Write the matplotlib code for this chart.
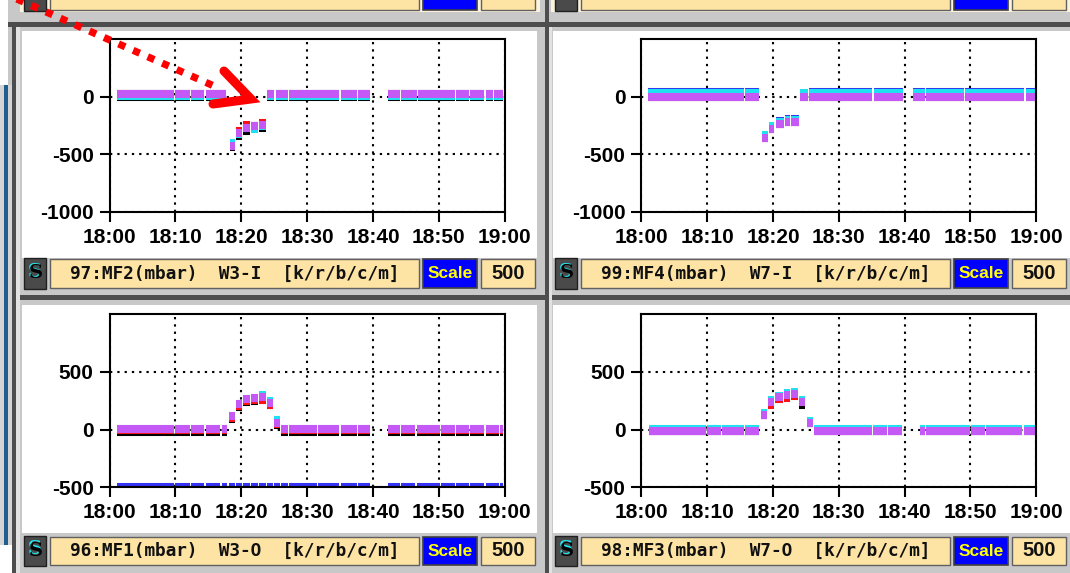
import numpy as np
import matplotlib.pyplot as plt
from matplotlib.patches import Rectangle

plt.rcParams['font.family'] = ['Liberation Sans', 'DejaVu Sans']
plt.rcParams['font.weight'] = 'bold'
plt.rcParams['axes.unicode_minus'] = False

W, H = 1070, 573
nan = np.nan

# time axis in minutes after 18:00
xticks = [0, 10, 20, 30, 40, 50, 60]
xlabels = ['18:00', '18:10', '18:20', '18:30', '18:40', '18:50', '19:00']

top_yticks = [-1000, -500, 0]
top_ylabels = ['-1000', '-500', '0']
bot_yticks = [-500, 0, 500]
bot_ylabels = ['-500', '0', '500']

# ---- 97:MF2 W3-I (top left) : bar edges + k/r/b/c/m values per bar ----
tl_t = [1.1, 10.0, 12.4, 14.6, 17.9, 18.3, 19.2, 20.3, 21.5, 22.7, 23.9, 25.2,
        27.3, 35.1, 37.7, 39.7, 42.3, 44.3, 46.9, 52.6, 54.7, 57.1, 58.4, 60.0]
tl_k = [-5, -5, -5, -5, nan, -440, -340, -295, -260, -275, -5, -5, -5, -5, -5,
        nan, -5, -5, -5, -5, -5, -5, -5]
tl_r = [20, 20, 20, 20, nan, -430, -295, -250, -255, -230, 20, 20, 20, 20, 20,
        nan, 20, 20, 20, 20, 20, 20, 20]
tl_b = [20, 20, 20, 20, nan, -425, -315, -270, -255, -250, 20, 20, 20, 20, 20,
        nan, 20, 20, 20, 20, 20, 20, 20]
tl_c = [8, 8, 8, 8, nan, -405, -320, -275, -280, -255, 8, 8, 8, 8, 8,
        nan, 8, 8, 8, 8, 8, 8, 8]
tl_m = [20, 20, 20, 20, nan, -425, -315, -270, -255, -250, 20, 20, 20, 20, 20,
        nan, 20, 20, 20, 20, 20, 20, 20]

# ---- 99:MF4 W7-I (top right) ----
tr_t = [1.0, 15.8, 18.0, 18.3, 19.4, 20.4, 21.8, 22.8, 24.1, 25.5, 35.3, 40.0,
        41.2, 43.3, 49.2, 58.4, 60.0]
tr_k = [-5, -5, nan, -355, -280, -240, -220, -220, -5, -5, -5, nan, -5, -5, -5, -5]
tr_r = [-5, -5, nan, -355, -280, -240, -220, -220, -5, -5, -5, nan, -5, -5, -5, -5]
tr_b = [45, 45, nan, -340, -262, -210, -196, -196, 20, 45, 45, nan, 45, 45, 45, 45]
tr_c = [35, 35, nan, -335, -255, -220, -205, -205, 35, 35, 35, nan, 35, 35, 35, 35]
tr_m = [-5, -5, nan, -355, -280, -240, -220, -220, -5, -5, -5, nan, -5, -5, -5, -5]

# ---- 96:MF1 W3-O (bottom left) ----
bl_t = [1.1, 10.0, 12.4, 14.6, 17.0, 18.1, 19.2, 20.3, 21.5, 22.7, 23.9, 25.0,
        26.1, 27.3, 31.7, 35.1, 37.7, 39.7, 42.3, 44.3, 46.6, 50.3, 52.6, 54.7,
        57.1, 59.3, 60.0]
bl_k = [-20, -20, -20, -20, -20, 95, 195, 240, 250, 258, 212, 40,
        -20, -20, -20, -20, -20, nan, -20, -20, -20, -20, -20, -20, -20, -20]
bl_r = [-5, -5, -5, -5, -5, 105, 205, 245, 255, 260, 210, 45,
        -5, -5, -5, -5, -5, nan, -5, -5, -5, -5, -5, -5, -5, -5]
bl_b = [-495, -495, -495, -495, -495, -495, -495, -495, -495, -495, -495, -495,
        -495, -495, -495, -495, -495, nan, -495, -495, -495, -495, -495, -495,
        -495, -495]
bl_c = [8, 8, 8, 8, 8, 115, 220, 262, 275, 300, 250, 80,
        8, 8, 8, 8, 8, nan, 8, 8, 8, 8, 8, 8, 8, 8]
bl_m = [8, 8, 8, 8, 8, 115, 220, 262, 275, 280, 232, 60,
        8, 8, 8, 8, 8, nan, 8, 8, 8, 8, 8, 8, 8, 8]

# ---- 98:MF3 W7-O (bottom right) ----
br_t = [1.1, 10.0, 12.3, 15.8, 18.1, 19.3, 20.3, 21.7, 22.8, 24.0, 25.1, 26.2,
        35.2, 37.5, 39.8, 42.3, 43.3, 50.1, 52.4, 58.1, 60.0]
br_k = [-8, -8, -8, -8, 125, 240, 280, 300, 310, 215, 55, -8, -8, -8, nan,
        -8, -8, -8, -8, -8]
br_r = [-8, -8, -8, -8, 125, 215, 262, 278, 295, 240, 55, -8, -8, -8, nan,
        -8, -8, -8, -8, -8]
br_b = [-8, -8, -8, -8, 125, 240, 280, 300, 310, 240, 55, -8, -8, -8, nan,
        -8, -8, -8, -8, -8]
br_c = [9, 9, 9, 9, 145, 258, 295, 318, 330, 258, 75, 9, 9, 9, nan,
        9, 9, 9, 9, 9]
br_m = [-8, -8, -8, -8, 125, 240, 280, 300, 310, 240, 55, -8, -8, -8, nan,
        -8, -8, -8, -8, -8]

colors = {'k': '#000000', 'r': '#ff1010', 'b': '#3434f4', 'c': '#1ee2f0', 'm': '#c459f6'}
BEIGE = '#fde3a4'
LW = 5.8     # trace thickness (pt)
GAP = 0.2    # small white break between stored samples (min)

fig = plt.figure(figsize=(W / 100, H / 100), dpi=100, facecolor='#c8c8c8')

# gui frame drawn in pixel coords
bg = fig.add_axes([0, 0, 1, 1], zorder=0)
bg.set_xlim(0, W)
bg.set_ylim(H, 0)
bg.axis('off')


def rect(x0, y0, x1, y1, fc, ec='none', lw=0, ax=bg):
    ax.add_patch(Rectangle((x0, y0), x1 - x0, y1 - y0, fc=fc, ec=ec, lw=lw))


def status_bar(dx, y0, y1, text):
    rect(24 + dx, y0, 46 + dx, y1, '#4a4a4a', '#202020', 1)
    rect(50 + dx, y0 + 1, 419 + dx, y1 - 1, BEIGE, '#606060', 1)
    rect(423 + dx, y0 + 1, 477 + dx, y1 - 1, '#0000ff', '#404040', 1.2)
    rect(481 + dx, y0 + 1, 535 + dx, y1 - 1, BEIGE, '#606060', 1)
    if text is None:
        return
    yc = (y0 + y1) / 2
    bg.text(35.5 + dx - 1, yc - 1.5, 'S', ha='center', va='center', color='#20e8f0',
            fontsize=14, fontfamily='DejaVu Serif', fontweight='bold')
    bg.text(35.5 + dx, yc, 'S', ha='center', va='center', color='black',
            fontsize=14, fontfamily='DejaVu Serif', fontweight='bold')
    bg.text(234.5 + dx, yc, text, ha='center', va='center', color='#111111',
            fontsize=12.8, fontfamily='DejaVu Sans Mono', fontweight='bold')
    bg.text(450 + dx, yc, 'Scale', ha='center', va='center', color='#ffff00',
            fontsize=12.5, fontweight='bold')
    bg.text(508 + dx, yc, '500', ha='center', va='center', color='#111111',
            fontsize=14.5, fontweight='bold')


# left edge strip
rect(0, 0, 8, 85, 'white')
rect(0, 85, 12, 545, '#d4d4d4')
rect(3.5, 85, 8, 545, '#1e5f8e')
rect(0, 545, 12, H, 'white')

# remnants of the panels above
rect(20, 0, 540, 12, '#fbf3dc')
rect(551, 0, W, 12, '#fbf3dc')
status_bar(0, -18, 11, None)
status_bar(531, -18, 11, None)

# dividers
rect(8, 22, W, 27, '#4d4d4d')
rect(12, 22, 16, H, '#4d4d4d')
rect(545, 0, 549, H, '#4d4d4d')
rect(16, 295, W, 300, '#4d4d4d')
rect(16, 27, 20, H, '#e2e2e2')
rect(549, 27, 552, H, '#e2e2e2')

# white panels
rect(22, 31, 537, 258, 'white')
rect(553, 31, W, 258, 'white')
rect(22, 305, 537, 533, 'white')
rect(553, 305, W, 533, 'white')

status_bar(0, 258, 289, '97:MF2(mbar)  W3-I  [k/r/b/c/m]')
status_bar(531, 258, 289, '99:MF4(mbar)  W7-I  [k/r/b/c/m]')
status_bar(0, 536, 566, '96:MF1(mbar)  W3-O  [k/r/b/c/m]')
status_bar(531, 536, 566, '98:MF3(mbar)  W7-O  [k/r/b/c/m]')


def trend_axes(x0, y0, x1, y1):
    return fig.add_axes([x0 / W, 1 - y1 / H, (x1 - x0) / W, (y1 - y0) / H], zorder=2)


def draw_trace(ax, edges, vals, color):
    edges = np.asarray(edges, float)
    vals = np.asarray(vals, float)
    ok = ~np.isnan(vals)
    ax.hlines(vals[ok], edges[:-1][ok], edges[1:][ok] - GAP, colors=color,
              lw=LW, capstyle='butt')


panels = [
    ((109.5, 39.3, 504.8, 211.7), (-1000, 500), top_yticks, top_ylabels,
     tl_t, [tl_k, tl_r, tl_b, tl_c, tl_m]),
    ((641.4, 39.3, 1036.3, 211.7), (-1000, 500), top_yticks, top_ylabels,
     tr_t, [tr_k, tr_r, tr_b, tr_c, tr_m]),
    ((109.5, 314.3, 504.8, 487.3), (-500, 1000), bot_yticks, bot_ylabels,
     bl_t, [bl_k, bl_r, bl_b, bl_c, bl_m]),
    ((641.4, 314.3, 1036.3, 487.3), (-500, 1000), bot_yticks, bot_ylabels,
     br_t, [br_k, br_r, br_b, br_c, br_m]),
]

for box, ylim, yt, ytl, t, traces in panels:
    ax = trend_axes(*box)
    ax.set_facecolor('white')
    ax.set_xlim(0, 60)
    ax.set_ylim(*ylim)
    ax.set_xticks(xticks, xlabels)
    ax.set_yticks(yt, ytl)
    ax.tick_params(direction='out', length=7.5, width=1.5, pad=4.0,
                   labelsize=15, colors='black')
    ax.grid(True, color='black', ls=(0, (1.1, 2.4)), lw=1.5)
    ax.set_axisbelow(True)
    for sp in ax.spines.values():
        sp.set_linewidth(1.5)
    for key, vals in zip('krbcm', traces):
        draw_trace(ax, t, vals, colors[key])

# red annotation arrow on top
ov = fig.add_axes([0, 0, 1, 1], zorder=5)
ov.set_xlim(0, W)
ov.set_ylim(H, 0)
ov.axis('off')
ov.patch.set_alpha(0)
ov.plot([10, 214], [-4, 86], color='#ff0000', lw=5.2, ls=(0, (1.0, 1.2)),
        dash_capstyle='butt')
ov.plot([224, 251, 213], [71, 99, 104], color='#ff0000', lw=6.5,
        solid_joinstyle='miter', solid_capstyle='round')

fig.savefig('out.png', dpi=100, facecolor=fig.get_facecolor())
